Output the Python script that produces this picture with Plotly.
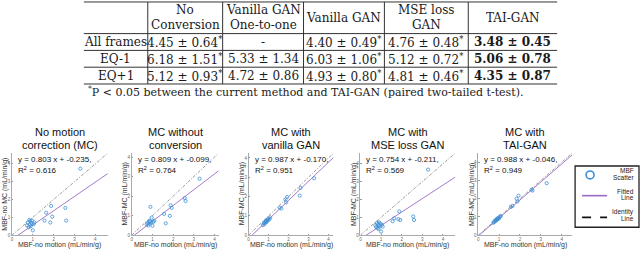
import plotly.graph_objects as go

W, H = 640, 253

# ---------------- table data ----------------
col_headers = ["No<br>Conversion", "Vanilla GAN<br>One-to-one", "Vanilla GAN", "MSE loss<br>GAN", "TAI-GAN"]
row_labels = ["All frames", "EQ-1", "EQ+1"]
means_all = [4.45, None, 4.40, 4.76, 3.48]
sds_all = [0.64, None, 0.49, 0.48, 0.45]
means_eqm1 = [6.18, 5.33, 6.03, 5.12, 5.06]
sds_eqm1 = [1.51, 1.34, 1.06, 0.72, 0.78]
means_eqp1 = [5.12, 4.72, 4.93, 4.81, 4.35]
sds_eqp1 = [0.93, 0.86, 0.80, 0.46, 0.87]
sig_all = [True, False, True, True, False]
sig_eqm1 = [True, False, True, True, False]
sig_eqp1 = [True, False, True, True, False]
footnote = "<sup>*</sup>P &lt; 0.05 between the current method and TAI-GAN (paired two-tailed t-test)."

# ---------------- scatter data ----------------
mbf_nomotion = [0.72, 0.76, 0.80, 0.83, 0.86, 0.88, 0.90, 0.93, 0.96, 1.00,
                1.04, 1.08, 1.56, 1.64, 1.84, 1.88, 1.93, 2.56, 2.60, 3.28]
mbf_nomc = [0.55, 0.70, 0.45, 0.85, 0.60, 0.78, 0.50, 0.68, 0.82, 0.27,
            0.62, 0.72, 0.82, 1.26, 0.71, 1.64, 1.04, 1.53, 0.82, 3.73]
mbf_mc_noconv = [0.55, 0.62, 0.50, 0.70, 0.58, 0.72, 1.45, 0.65, 0.90, 0.48,
                 0.68, 0.74, 1.09, 0.61, 0.99, 1.53, 1.40, 1.90, 1.75, 2.89]
mbf_mc_vgan = [0.52, 0.63, 0.58, 0.70, 0.66, 0.74, 0.69, 0.80, 0.76, 0.86,
               0.82, 0.92, 1.42, 1.38, 1.85, 1.70, 1.98, 2.05, 2.45, 2.95]
mbf_mc_mse = [0.55, 0.45, 0.68, 0.40, 0.62, 0.35, 0.72, 0.50, 0.65, 0.20,
              0.58, 0.48, 0.78, 0.95, 0.90, 1.33, 0.85, 1.05, 0.85, 3.68]
mbf_mc_tai = [0.68, 0.72, 0.80, 0.78, 0.85, 0.82, 0.90, 0.88, 0.95, 0.92,
              1.02, 1.05, 1.55, 1.60, 2.00, 1.85, 2.17, 2.50, 2.45, 2.85]

titles = [("No motion", "correction (MC)"), ("MC without", "conversion"),
          ("MC with", "vanilla GAN"), ("MC with", "MSE loss GAN"), ("MC with", "TAI-GAN")]
ylabels = ["MBF-no MC (mL/min/g)", "MBF-MC (mL/min/g)", "MBF-MC (mL/min/g)",
           "MBF-MC (mL/min/g)", "MBF-MC (mL/min/g)"]
slopes = [0.803, 0.809, 0.987, 0.754, 0.988]
intercepts = [-0.235, -0.099, -0.170, -0.211, -0.046]
r2s = [0.616, 0.764, 0.951, 0.569, 0.949]
ys = [mbf_nomc, mbf_mc_noconv, mbf_mc_vgan, mbf_mc_mse, mbf_mc_tai]
axis_limits = [4.6, 4.2, 4.25, 4.6, 4.5]
tick_values = [0, 1, 2, 3, 4]
xlabel = "MBF-no motion (mL/min/g)"
legend_labels = [("MBF", "Scatter"), ("Fitted", "Line"), ("Identity", "Line")]

# ---------------- layout geometry (pixels) ----------------
plot_left = [11, 131, 248, 360, 478]
plot_right = [107, 218, 333, 455, 572]
plot_top, plot_bottom = 155, 238

def px(x):
    return x / W

def py(y):
    return 1 - y / H

SCAT_BLUE = "#3d8fd6"
PURPLE = "#9a6bc4"
SANS = "Liberation Sans"
SERIF = "DejaVu Serif"

fig = go.Figure()
annotations = []
shapes = []

for i in range(5):
    ax = "" if i == 0 else str(i + 1)
    L = axis_limits[i]
    xs = [0, L]
    fig.add_trace(go.Scatter(x=xs, y=xs, mode="lines", xaxis="x" + ax, yaxis="y" + ax,
                             line=dict(color="#555", width=0.6, dash="3px,1.5px,1px,1.5px"),
                             showlegend=False, hoverinfo="skip"))
    fig.add_trace(go.Scatter(x=xs, y=[slopes[i] * v + intercepts[i] for v in xs], mode="lines",
                             xaxis="x" + ax, yaxis="y" + ax,
                             line=dict(color=PURPLE, width=0.9), showlegend=False))
    fig.add_trace(go.Scatter(x=mbf_nomotion, y=ys[i], mode="markers", xaxis="x" + ax, yaxis="y" + ax,
                             marker=dict(symbol="circle-open", size=3.2, color=SCAT_BLUE,
                                         line=dict(width=0.8, color=SCAT_BLUE)),
                             showlegend=False))
    axis_common = dict(range=[0, L], tickvals=tick_values,
                       tickfont=dict(size=4.5, color="#666", family=SANS),
                       showgrid=False, zeroline=False, showline=True, linecolor="#aaa", linewidth=0.6,
                       ticks="inside", ticklen=1.5, tickcolor="#999", fixedrange=True)
    fig.layout["xaxis" + ax] = dict(domain=[px(plot_left[i]), px(plot_right[i])],
                                    anchor="y" + ax, **axis_common)
    fig.layout["yaxis" + ax] = dict(domain=[py(plot_bottom), py(plot_top)],
                                    anchor="x" + ax, **axis_common)
    cx = (plot_left[i] + plot_right[i]) / 2
    annotations.append(dict(text=titles[i][0], x=px(cx), y=py(134), xref="paper", yref="paper",
                            showarrow=False, xanchor="center", yanchor="middle",
                            font=dict(family=SANS, size=11, color="#111")))
    annotations.append(dict(text=titles[i][1], x=px(cx), y=py(146.5), xref="paper", yref="paper",
                            showarrow=False, xanchor="center", yanchor="middle",
                            font=dict(family=SANS, size=11, color="#111")))
    annotations.append(dict(text=f"y = {slopes[i]:.3f} x + {intercepts[i]:.3f},",
                            x=px(plot_left[i] + 4), y=py(161), xref="paper", yref="paper",
                            showarrow=False, xanchor="left", yanchor="middle",
                            font=dict(family=SANS, size=8, color="#111")))
    annotations.append(dict(text=f"R<sup>2</sup> = {r2s[i]:.3f}",
                            x=px(plot_left[i] + 4), y=py(172), xref="paper", yref="paper",
                            showarrow=False, xanchor="left", yanchor="middle",
                            font=dict(family=SANS, size=8, color="#111")))
    annotations.append(dict(text=xlabel, x=px(cx), y=py(248.3), xref="paper", yref="paper",
                            showarrow=False, xanchor="center", yanchor="middle", borderpad=0,
                            font=dict(family=SANS, size=7, color="#333")))
    annotations.append(dict(text=ylabels[i], x=px(plot_left[i] - 6.5), y=py((plot_top + plot_bottom) / 2),
                            xref="paper", yref="paper", textangle=-90, borderpad=0,
                            showarrow=False, xanchor="center", yanchor="middle",
                            font=dict(family=SANS, size=7, color="#333")))

# ---------------- legend box ----------------
shapes.append(dict(type="rect", xref="paper", yref="paper", x0=px(575), x1=px(639), y0=py(230), y1=py(168),
                   line=dict(color="#222", width=1.3), fillcolor="white"))
shapes.append(dict(type="circle", xref="paper", yref="paper", x0=px(586), x1=px(594), y0=py(181), y1=py(173),
                   line=dict(color=SCAT_BLUE, width=1.6)))
shapes.append(dict(type="line", xref="paper", yref="paper", x0=px(582), x1=px(607), y0=py(198), y1=py(198),
                   line=dict(color=PURPLE, width=1.6)))
shapes.append(dict(type="line", xref="paper", yref="paper", x0=px(582), x1=px(607), y0=py(220), y1=py(220),
                   line=dict(color="#111", width=1.6, dash="dash")))
leg_y = [(173, 179.5), (194, 200), (215, 221.5)]
for (l1, l2), (y1, y2) in zip(legend_labels, leg_y):
    for t, yy in ((l1, y1), (l2, y2)):
        annotations.append(dict(text=t, x=px(635), y=py(yy), xref="paper", yref="paper", showarrow=False,
                                xanchor="right", yanchor="middle", borderpad=0,
                                font=dict(family=SANS, size=6.5, color="#222")))

# ---------------- table ----------------
col_edges = [83, 147, 222, 303, 384, 468, 557]
t_left, t_right = col_edges[0], col_edges[-1]
h_lines = [2, 34, 51, 68, 85]
row_centers = [42.5, 59.5, 76.5]
for yy in h_lines:
    shapes.append(dict(type="line", xref="paper", yref="paper", x0=px(t_left), x1=px(t_right),
                       y0=py(yy), y1=py(yy), line=dict(color="#333", width=1)))
for xx in col_edges[1:-1]:
    shapes.append(dict(type="line", xref="paper", yref="paper", x0=px(xx), x1=px(xx),
                       y0=py(2), y1=py(85), line=dict(color="#333", width=1)))

TFONT = dict(family=SERIF, size=12, color="#1a1a1a")
for j, hdr in enumerate(col_headers):
    cx = (col_edges[j + 1] + col_edges[j + 2]) / 2
    lines = hdr.split("<br>")
    ypos = [10.5, 25] if len(lines) == 2 else [18]
    for t, yy in zip(lines, ypos):
        annotations.append(dict(text=t, x=px(cx), y=py(yy), xref="paper", yref="paper", showarrow=False,
                                xanchor="center", yanchor="middle", font=TFONT))

row_data = [(means_all, sds_all, sig_all), (means_eqm1, sds_eqm1, sig_eqm1), (means_eqp1, sds_eqp1, sig_eqp1)]
for r, (lab, (ms, ss, sg)) in enumerate(zip(row_labels, row_data)):
    yy = row_centers[r]
    annotations.append(dict(text=lab, x=px((col_edges[0] + col_edges[1]) / 2), y=py(yy), xref="paper",
                            yref="paper", showarrow=False, xanchor="center", yanchor="middle", font=TFONT))
    for j in range(5):
        cx = (col_edges[j + 1] + col_edges[j + 2]) / 2
        if ms[j] is None:
            txt = "-"
        else:
            txt = f"{ms[j]:.2f} ± {ss[j]:.2f}"
            if sg[j]:
                txt += "<sup>*</sup>"
            if j == 4:
                txt = f"<b>{txt}</b>"
        annotations.append(dict(text=txt, x=px(cx), y=py(yy), xref="paper", yref="paper", showarrow=False,
                                xanchor="center", yanchor="middle", font=TFONT))

annotations.append(dict(text=footnote, x=px(85), y=py(93), xref="paper", yref="paper", showarrow=False,
                        xanchor="left", yanchor="middle", font=dict(family=SERIF, size=11, color="#1a1a1a")))

fig.update_layout(width=W, height=H, autosize=False, margin=dict(l=0, r=0, t=0, b=0),
                  paper_bgcolor="white", plot_bgcolor="white", showlegend=False,
                  annotations=annotations, shapes=shapes)

fig.write_html("out.html", config={"displayModeBar": False},
               post_script="document.body.style.margin='0';document.body.style.overflow='hidden';")
